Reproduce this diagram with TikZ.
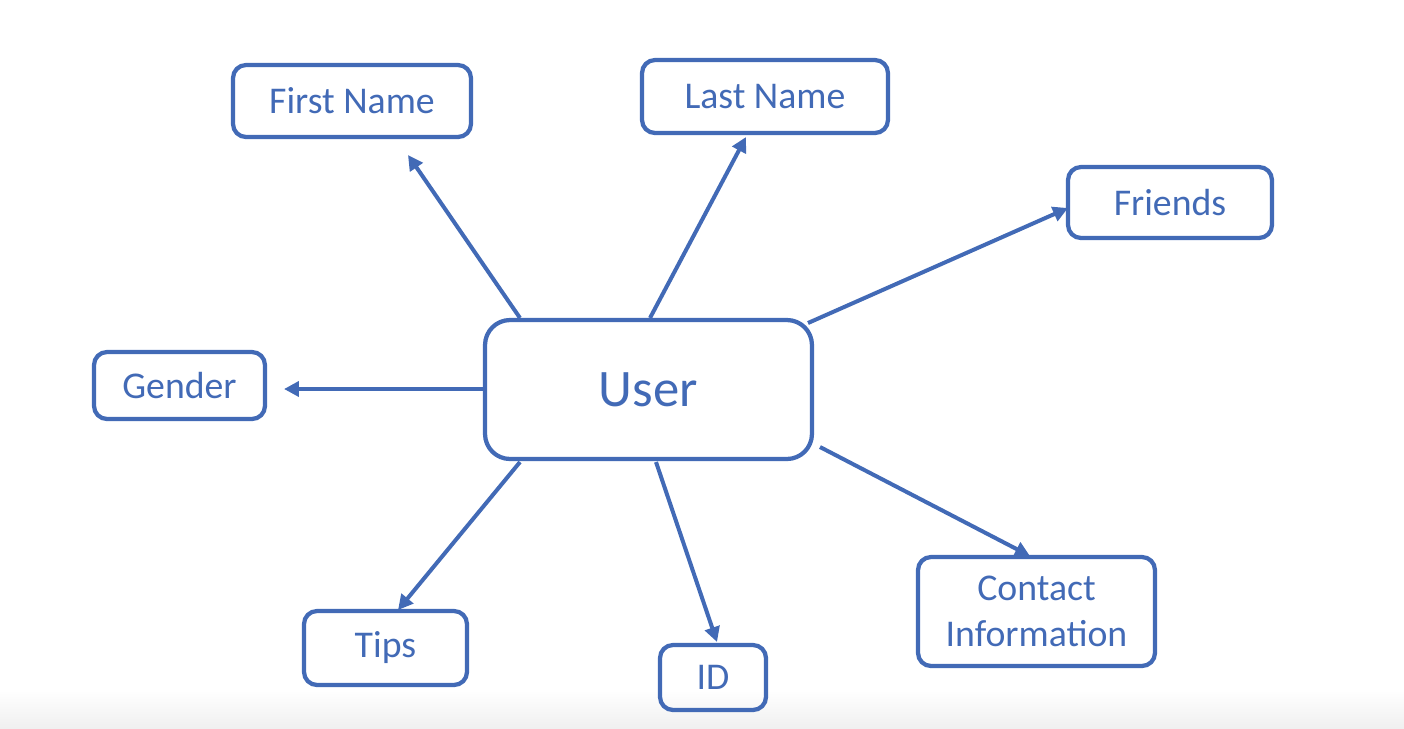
\documentclass[tikz,border=0pt]{standalone}
\usepackage{fontspec}
\setmainfont{Carlito}
\usetikzlibrary{arrows.meta}
\definecolor{ublue}{RGB}{66,106,182}
\tikzset{
  px/.style={x=0.02cm,y=-0.02cm},
  attr/.style={draw=ublue, line width=0.085cm, rounded corners=0.26cm, text=ublue,
    font=\fontsize{21.5}{26}\selectfont, align=center, inner sep=0pt},
  conn/.style={draw=ublue, line width=0.08cm, -{Triangle[length=0.3cm,width=0.3cm]}}
}
\begin{document}
\begin{tikzpicture}[px]
\useasboundingbox (0,0) rectangle (1404,728);
\shade[top color=white, bottom color=gray!12] (0,690) rectangle (1404,728);
\node[attr, rounded corners=0.5cm, minimum width=6.54cm, minimum height=2.78cm, font=\fontsize{30}{36}\selectfont] (user) at (648.5,389.5) {User};
\node[attr, minimum width=4.76cm, minimum height=1.44cm] (first) at (352,101) {First Name};
\node[attr, minimum width=4.92cm, minimum height=1.46cm] (last) at (765,96.5) {Last Name};
\node[attr, minimum width=4.08cm, minimum height=1.42cm] (friends) at (1170,202.5) {Friends};
\node[attr, minimum width=3.42cm, minimum height=1.34cm] (gender) at (179.5,385.5) {Gender};
\node[attr, minimum width=3.26cm, minimum height=1.48cm] (tips) at (385.5,648) {Tips};
\node[attr, minimum width=2.12cm, minimum height=1.30cm] (id) at (713,677.5) {ID};
\node[attr, minimum width=4.74cm, minimum height=2.18cm] (contact) at (1036.5,611.5) {Contact\\Information};
% connector end points
\coordinate (s1) at (520,318); \coordinate (e1) at (408,155);
\coordinate (s2) at (650,318); \coordinate (e2) at (746,137);
\coordinate (s3) at (808,323); \coordinate (e3) at (1068,208);
\coordinate (s4) at (484,389); \coordinate (e4) at (284,389);
\coordinate (s5) at (520,462); \coordinate (e5) at (398,610);
\coordinate (s6) at (656,462); \coordinate (e6) at (717,642);
\coordinate (s7) at (820,447); \coordinate (e7) at (1030,556);
\draw[conn] (s1) -- (e1);
\draw[conn] (s2) -- (e2);
\draw[conn] (s3) -- (e3);
\draw[conn] (s4) -- (e4);
\draw[conn] (s5) -- (e5);
\draw[conn] (s6) -- (e6);
\draw[conn] (s7) -- (e7);
\end{tikzpicture}
\end{document}
